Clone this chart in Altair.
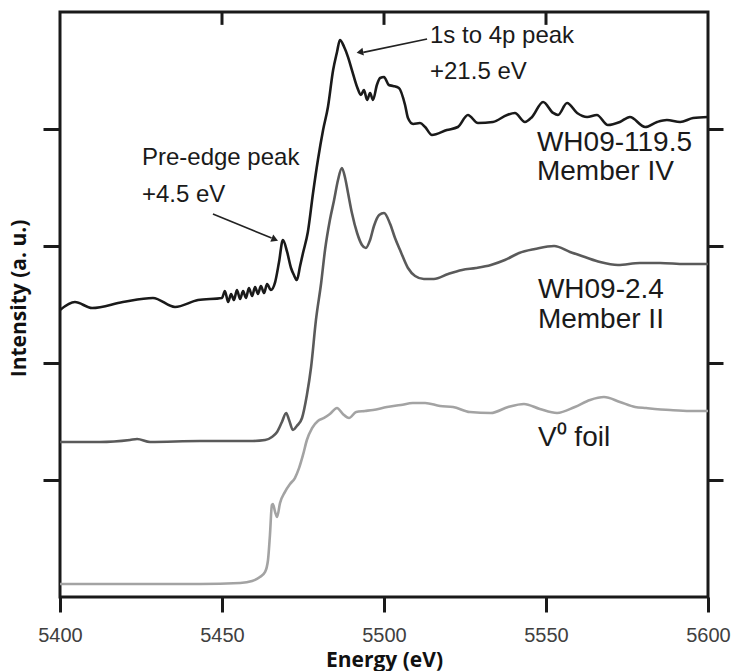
import altair as alt
import pandas as pd

# ---- data ----
black_E = [5400.0, 5404.6, 5409.9, 5419.4, 5428.7, 5435.5, 5442.6, 5450.0, 5450.9, 5451.9,
           5452.8, 5453.7, 5454.6, 5455.6, 5456.5, 5457.4, 5458.3, 5459.3, 5460.2, 5461.1,
           5462.0, 5463.0, 5463.9, 5465.1, 5466.4, 5467.6, 5468.8, 5470.1, 5471.3, 5472.2,
           5473.1, 5474.1, 5475.0, 5476.5, 5478.1, 5479.6, 5481.2, 5482.7, 5484.3, 5485.5,
           5486.4, 5487.7, 5488.9, 5490.1, 5491.7, 5492.9, 5493.8, 5494.8, 5495.7, 5496.6,
           5497.8, 5498.8, 5500.0, 5501.5, 5502.8, 5504.6, 5506.5, 5507.4, 5509.0, 5511.1,
           5512.7, 5514.8, 5519.4, 5522.8, 5525.9, 5529.0, 5533.6, 5538.0, 5540.4, 5543.5,
           5545.7, 5549.1, 5552.2, 5553.7, 5556.5, 5559.6, 5562.7, 5565.7, 5569.1, 5572.8,
           5575.9, 5580.6, 5584.3, 5587.3, 5591.4, 5595.4, 5600.0]
black_I = [2.453, 2.521, 2.470, 2.521, 2.556, 2.479, 2.538, 2.556, 2.615, 2.521,
           2.590, 2.538, 2.624, 2.547, 2.615, 2.556, 2.641, 2.573, 2.650, 2.590,
           2.658, 2.598, 2.675, 2.624, 2.692, 2.863, 3.051, 2.949, 2.812, 2.752,
           2.709, 2.829, 2.940, 3.120, 3.453, 3.735, 3.991, 4.188, 4.504, 4.658,
           4.761, 4.701, 4.615, 4.504, 4.359, 4.291, 4.333, 4.248, 4.308, 4.248,
           4.376, 4.436, 4.444, 4.376, 4.368, 4.350, 4.205, 4.094, 4.043, 4.051,
           4.017, 3.949, 3.991, 4.017, 4.120, 4.051, 4.060, 4.120, 4.137, 4.060,
           4.103, 4.231, 4.137, 4.120, 4.222, 4.137, 4.103, 4.120, 4.034, 4.060,
           4.103, 4.017, 4.060, 4.077, 4.060, 4.094, 4.103]

gray_E = [5400.0, 5412.3, 5421.6, 5423.8, 5427.8, 5443.2, 5458.6, 5463.3, 5465.4, 5467.0,
          5468.5, 5469.8, 5470.7, 5471.9, 5473.1, 5474.7, 5476.2, 5477.5, 5479.0, 5480.6,
          5481.8, 5483.3, 5484.6, 5485.8, 5487.0, 5488.0, 5488.9, 5490.1, 5491.7, 5493.2,
          5494.4, 5495.7, 5496.9, 5498.5, 5500.0, 5501.9, 5503.4, 5505.2, 5507.4, 5509.6,
          5512.3, 5515.4, 5519.8, 5524.1, 5528.4, 5533.0, 5537.3, 5541.7, 5546.6, 5552.5,
          5557.4, 5562.0, 5566.7, 5572.2, 5579.0, 5585.2, 5592.9, 5600.0]
gray_I = [1.325, 1.325, 1.342, 1.350, 1.325, 1.333, 1.333, 1.342, 1.368, 1.410,
          1.496, 1.573, 1.513, 1.427, 1.462, 1.530, 1.726, 1.966, 2.368, 2.684,
          2.966, 3.222, 3.393, 3.564, 3.667, 3.581, 3.453, 3.282, 3.111, 3.009,
          2.983, 3.051, 3.171, 3.265, 3.282, 3.188, 3.068, 2.949, 2.812, 2.744,
          2.718, 2.718, 2.761, 2.795, 2.812, 2.838, 2.880, 2.940, 2.974, 3.000,
          2.949, 2.906, 2.863, 2.838, 2.855, 2.855, 2.846, 2.846]

foil_E = [5400.0, 5418.5, 5443.2, 5455.6, 5459.3, 5461.7, 5463.3, 5464.2, 5464.8, 5465.4,
          5465.7, 5466.4, 5467.0, 5467.9, 5469.4, 5471.0, 5472.5, 5473.8, 5475.0, 5476.2,
          5477.8, 5479.6, 5481.5, 5483.3, 5485.5, 5487.3, 5489.2, 5491.4, 5494.1, 5496.6,
          5500.9, 5505.2, 5508.9, 5512.7, 5517.3, 5521.3, 5526.5, 5533.0, 5538.3, 5543.2,
          5548.1, 5553.4, 5558.9, 5563.6, 5567.9, 5572.8, 5577.5, 5580.9, 5588.3, 5594.4,
          5600.0]
foil_I = [0.111, 0.111, 0.111, 0.120, 0.137, 0.171, 0.214, 0.316, 0.530, 0.786,
          0.795, 0.726, 0.684, 0.803, 0.897, 0.966, 1.017, 1.103, 1.214, 1.342,
          1.444, 1.504, 1.530, 1.564, 1.615, 1.564, 1.530, 1.581, 1.590, 1.598,
          1.624, 1.641, 1.658, 1.658, 1.632, 1.624, 1.581, 1.573, 1.624, 1.650,
          1.607, 1.573, 1.624, 1.684, 1.709, 1.667, 1.624, 1.615, 1.598, 1.590,
          1.590]

series_names = ["WH09-119.5", "WH09-2.4", "V foil"]
series_colors = ["#1a1a1a", "#5a5a5a", "#a3a3a3"]

x_ticks = [5400, 5450, 5500, 5550, 5600]
top_ticks = [5450, 5500, 5550]
y_ticks = [1, 2, 3, 4]
y_max = 5.0
top_tick_len = 0.11  # inward top tick length, in intensity units

label_text = ["WH09-119.5", "Member IV", "WH09-2.4", "Member II", "V\u2070 foil"]
label_E = [5547.2, 5547.2, 5547.5, 5547.5, 5547.5]
label_I = [3.880, 3.632, 2.624, 2.368, 1.359]

note_text = ["1s to 4p  peak", "+21.5 eV", "Pre-edge peak", "+4.5 eV"]
note_E = [5514.2, 5514.2, 5425.3, 5425.3]
note_I = [4.795, 4.487, 3.752, 3.436]

arrow_id = ["a1", "a1", "a2", "a2"]
arrow_E = [5513.3, 5493.6, 5447.2, 5465.3]
arrow_I = [4.769, 4.655, 3.274, 3.068]
head_E = [5492.9, 5466.0]
head_I = [4.658, 3.060]
head_angle = [259, 112]

# ---- tables ----
rows = []
for name, E, I in zip(series_names, [black_E, gray_E, foil_E], [black_I, gray_I, foil_I]):
    for k, (e, v) in enumerate(zip(E, I)):
        rows.append({"series": name, "E": e, "I": v, "idx": k})
df = pd.DataFrame(rows)
labels_df = pd.DataFrame({"text": label_text, "E": label_E, "I": label_I})
notes_df = pd.DataFrame({"text": note_text, "E": note_E, "I": note_I})
head_df = pd.DataFrame({"E": head_E, "I": head_I, "angle": head_angle})

# arrow shafts and the inward top ticks share one segment table
seg = [{"id": i, "E": e, "I": v, "w": 1.6, "c": "#222222"}
       for i, e, v in zip(arrow_id, arrow_E, arrow_I)]
for t in top_ticks:
    seg.append({"id": "t%d" % t, "E": float(t), "I": y_max, "w": 3.0, "c": "#1a1a1a"})
    seg.append({"id": "t%d" % t, "E": float(t), "I": y_max - top_tick_len, "w": 3.0, "c": "#1a1a1a"})
seg_df = pd.DataFrame(seg)

xs = alt.Scale(domain=[5400, 5600], nice=False, zero=False)
ys = alt.Scale(domain=[0, 5], nice=False, zero=False)

FRAME = "#1a1a1a"

lines = alt.Chart(df).mark_line(strokeWidth=2.6, interpolate="monotone").encode(
    x=alt.X("E:Q", scale=xs, axis=alt.Axis(
        values=x_ticks, title="Energy (eV)", format="d", grid=False, domain=False,
        tickSize=15, tickWidth=3, tickColor=FRAME,
        labelFont="Liberation Sans", labelFontSize=20, labelColor="#404040",
        labelPadding=13, labelFlush=False,
        titleFont="Open Sans", titleFontWeight="bold", titleFontSize=21, titleColor="#111111",
        titleY=63, titleBaseline="middle")),
    y=alt.Y("I:Q", scale=ys, axis=alt.Axis(
        values=y_ticks, labels=False, grid=False, domain=False,
        tickSize=17, tickWidth=3, tickColor=FRAME,
        title="Intensity (a. u.)", titleFont="Open Sans", titleFontWeight="bold",
        titleFontSize=21, titleColor="#111111", titleX=-41, titleY=286,
        titleAngle=-90, titleBaseline="middle", titleAlign="center")),
    color=alt.Color("series:N", scale=alt.Scale(domain=series_names, range=series_colors), legend=None),
    order="idx:Q",
)

right_axis = alt.Chart(df).mark_line(opacity=0).encode(
    x=alt.X("E:Q", scale=xs, axis=None),
    y=alt.Y("I:Q", scale=ys, axis=alt.Axis(
        orient="right", values=y_ticks, labels=False, grid=False, domain=False, title=None,
        tickSize=15, tickWidth=3, tickColor=FRAME)),
    detail="series:N",
)

segments = alt.Chart(seg_df).mark_line().encode(
    x=alt.X("E:Q", scale=xs), y=alt.Y("I:Q", scale=ys), detail="id:N",
    strokeWidth=alt.StrokeWidth("w:Q", scale=None),
    color=alt.Color("c:N", scale=None),
)

heads = alt.Chart(head_df).mark_point(shape="triangle", filled=True, color="#222222",
                                      size=60, opacity=1, strokeWidth=0).encode(
    x=alt.X("E:Q", scale=xs), y=alt.Y("I:Q", scale=ys),
    angle=alt.Angle("angle:Q", scale=None))

labels = alt.Chart(labels_df).mark_text(align="left", baseline="middle", font="Liberation Sans",
                                        fontSize=28, color="#1a1a1a").encode(
    x=alt.X("E:Q", scale=xs), y=alt.Y("I:Q", scale=ys), text="text:N")

notes = alt.Chart(notes_df).mark_text(align="left", baseline="middle", font="Liberation Sans",
                                      fontSize=24, color="#1a1a1a").encode(
    x=alt.X("E:Q", scale=xs), y=alt.Y("I:Q", scale=ys), text="text:N")

main = alt.layer(lines, segments, heads, labels, notes)

chart = alt.layer(main, right_axis).resolve_scale(
    x="independent", y="independent"
).properties(
    width=648, height=585, autosize="none",
    padding={"left": 60, "top": 12, "right": 27, "bottom": 74},
).configure_view(stroke=FRAME, strokeWidth=3)

chart.save("out.html", embed_options={"renderer": "svg", "actions": False})
